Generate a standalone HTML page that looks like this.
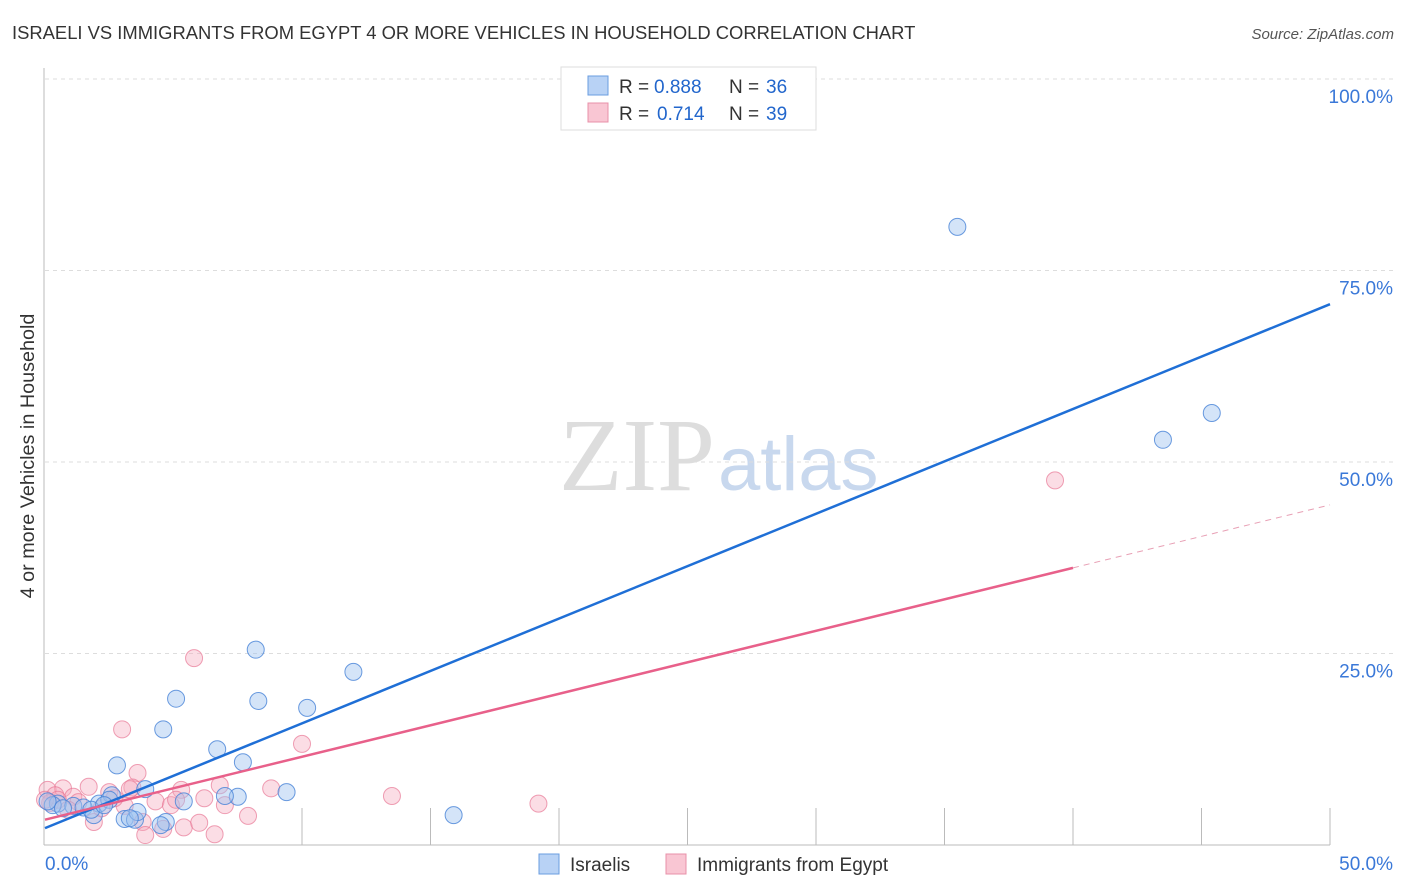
<!DOCTYPE html>
<html><head><meta charset="utf-8"><style>
body{margin:0;background:#fff;font-family:"Liberation Sans",sans-serif}
svg{display:block}
</style></head><body>
<svg id="c" width="1406" height="892" xmlns="http://www.w3.org/2000/svg">
<text x="12" y="39" font-size="18.4" fill="#333">ISRAELI VS IMMIGRANTS FROM EGYPT 4 OR MORE VEHICLES IN HOUSEHOLD CORRELATION CHART</text>
<text x="1394" y="39" font-size="15" fill="#555" font-style="italic" text-anchor="end">Source: ZipAtlas.com</text>
<text x="715" y="490" font-size="104" fill="#ddd" text-anchor="end" font-family="Liberation Serif,serif">ZIP</text>
<text x="718" y="490" font-size="76" fill="#c8d8ee">atlas</text>
<text transform="translate(34,456) rotate(-90)" font-size="19.8" fill="#333" text-anchor="middle">4 or more Vehicles in Household</text>
<g id="grid"></g><g id="pts"></g><g id="lines"></g>
<g>
<rect x="561" y="67" width="255" height="63" fill="#fff" stroke="#ddd"/>
<rect x="588" y="76" width="20" height="19" fill="#b8d2f5" stroke="#6a9de0"/>
<rect x="588" y="103" width="20" height="19" fill="#f9c6d3" stroke="#e890a8"/>
<text x="619" y="93" font-size="19" fill="#333">R =</text>
<text x="654" y="93" font-size="19" fill="#2266cc">0.888</text>
<text x="729" y="93" font-size="19" fill="#333">N =</text>
<text x="766" y="93" font-size="19" fill="#2266cc">36</text>
<text x="619" y="120" font-size="19" fill="#333">R =</text>
<text x="657" y="120" font-size="19" fill="#2266cc">0.714</text>
<text x="729" y="120" font-size="19" fill="#333">N =</text>
<text x="766" y="120" font-size="19" fill="#2266cc">39</text>
</g>
<g>
<rect x="539" y="854" width="20" height="20" fill="#b8d2f5" stroke="#6a9de0"/>
<text x="570" y="871" font-size="19" fill="#333">Israelis</text>
<rect x="666" y="854" width="20" height="20" fill="#f9c6d3" stroke="#e890a8"/>
<text x="697" y="871" font-size="19" fill="#333">Immigrants from Egypt</text>
</g>
</svg>
<script>
const yTicks=[100,75,50,25];
const yTickLabels=["100.0%","75.0%","50.0%","25.0%"];
const xLabels=["0.0%","50.0%"];
const blueX=[35.5,43.5,45.4,8.2,12.0,5.1,8.3,10.2,4.6,6.7,7.7,2.8,9.4,7.5,7.0,5.4,3.9,2.1,2.6,0.5,0.3,1.1,1.5,1.9,3.1,3.5,4.7,15.9,3.6,0.1,0.7,1.8,2.5,3.3,4.5,2.3];
const blueY=[80.7,52.9,56.4,25.5,22.6,19.1,18.8,17.9,15.1,12.5,10.8,10.4,6.9,6.3,6.4,5.7,7.3,5.4,6.5,5.4,5.2,5.1,4.9,3.9,3.4,3.3,3.0,3.9,4.3,5.7,4.8,4.6,5.9,3.5,2.6,5.2];
const pinkX=[39.3,5.8,3.0,10.0,3.6,1.7,0.7,3.4,5.3,6.8,8.8,13.5,19.2,0.1,0.4,1.1,2.5,4.3,6.2,7.0,7.9,1.9,3.8,4.6,5.4,6.6,6.0,0.2,0.5,1.3,2.2,3.1,4.9,2.7,0.9,0,3.3,5.1,3.9];
const pinkY=[47.6,24.4,15.1,13.2,9.4,7.6,7.4,7.5,7.2,7.8,7.4,6.4,5.4,7.2,6.5,6.3,6.9,5.7,6.1,5.2,3.8,3.0,3.0,2.1,2.3,1.4,2.9,5.5,5.9,5.6,4.8,5.1,5.2,6.1,4.6,5.9,7.3,5.9,1.3];
const blueTrend=[2.2,70.6];
const pinkTrend=[3.3,44.4];
const pinkSolidEnd=40;
const NS="http://www.w3.org/2000/svg";
const sx=v=>45+v/50*1285, sy=v=>845-v*7.66;
function mk(t,a,p){const e=document.createElementNS(NS,t);for(const k in a)e.setAttribute(k,a[k]);p.appendChild(e);return e;}
const g=document.getElementById('grid');
yTicks.forEach((t,i)=>{
 const l=mk('line',{x1:45,x2:1394,y1:sy(t),y2:sy(t),stroke:'#ddd','stroke-dasharray':'4,4'},g);
 
 
 const tx=mk('text',{x:1393,y:sy(t)+24,'font-size':19,fill:'#3a78d8','text-anchor':'end'},g);
 tx.textContent=yTickLabels[i];
 
 
});
mk('line',{x1:44,x2:44,y1:68,y2:845,stroke:'#bbb'},g);
mk('line',{x1:44,x2:1330,y1:845,y2:845,stroke:'#bbb'},g);
for(let i=0;i<9;i++){const x=302+i*128.5;mk('line',{x1:x,x2:x,y1:808,y2:845,stroke:'#bbb'},g);}
xLabels.forEach((s,i)=>{const t=mk('text',{x:i?1393:45,y:870,'font-size':19,fill:'#3a78d8','text-anchor':i?'end':'start'},g);t.textContent=s;
 
 });
const p=document.getElementById('pts');
pinkX.forEach((x,i)=>{const c=mk('circle',{cx:sx(x),cy:sy(pinkY[i]),r:8.5,fill:'rgba(246,170,190,0.4)',stroke:'rgba(232,120,150,0.7)'},p);
 
 });
blueX.forEach((x,i)=>{const c=mk('circle',{cx:sx(x),cy:sy(blueY[i]),r:8.5,fill:'rgba(160,195,240,0.45)',stroke:'rgba(70,130,215,0.8)'},p);
 
 });
const L=document.getElementById('lines');
const pt=x=>pinkTrend[0]+(pinkTrend[1]-pinkTrend[0])*x/50;
let a=mk('line',{x1:sx(0),y1:sy(blueTrend[0]),x2:sx(50),y2:sy(blueTrend[1]),stroke:'#1f6fd6','stroke-width':2.5},L);


a=mk('line',{x1:sx(0),y1:sy(pt(0)),x2:sx(pinkSolidEnd),y2:sy(pt(pinkSolidEnd)),stroke:'#e8608a','stroke-width':2.5},L);


a=mk('line',{x1:sx(pinkSolidEnd),y1:sy(pt(pinkSolidEnd)),x2:sx(50),y2:sy(pt(50)),stroke:'#e8a0b5','stroke-width':1,'stroke-dasharray':'6,5'},L);


</script>
</body></html>
